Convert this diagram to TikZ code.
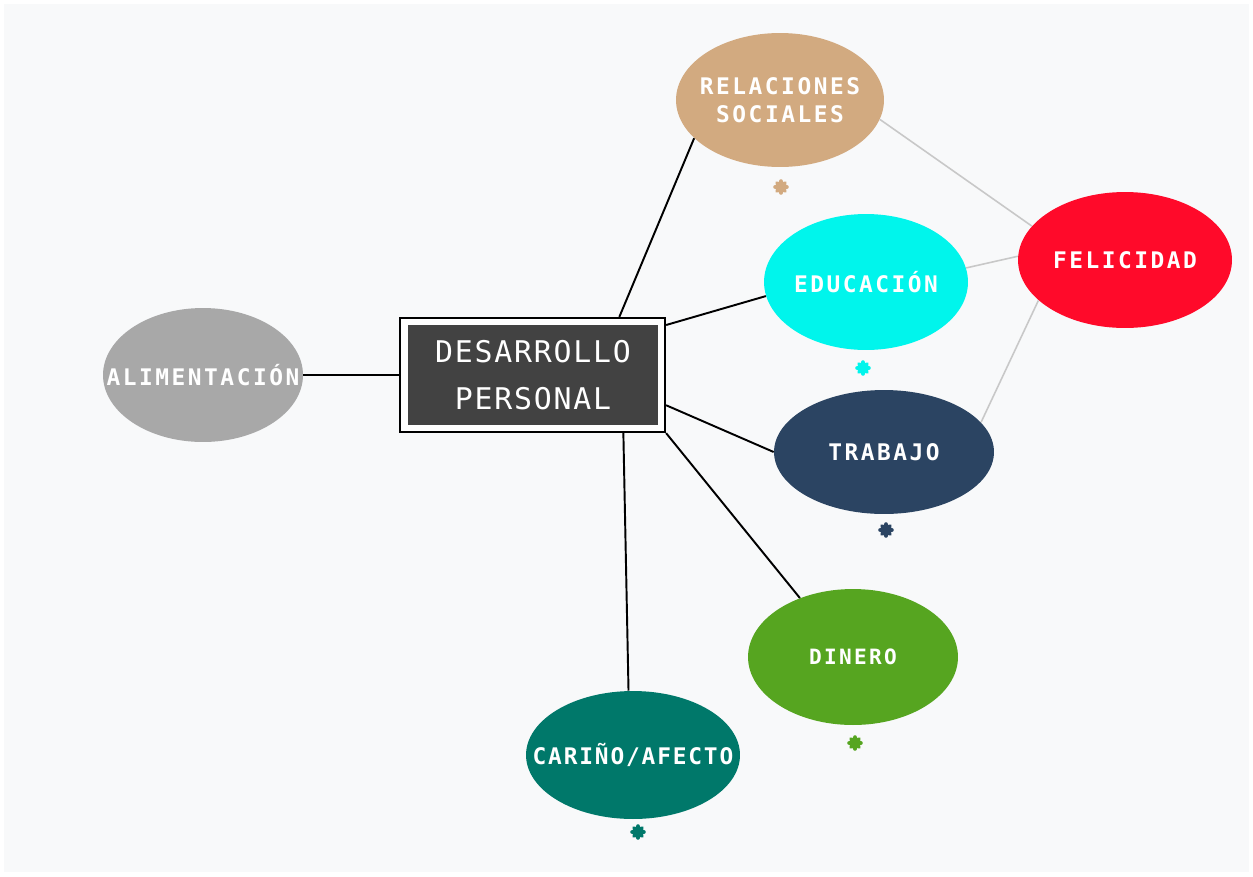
\documentclass[tikz,border=0pt]{standalone}
\usepackage{fontspec}
\usetikzlibrary{shapes.geometric,calc}
\newfontfamily\lblfont{DejaVu Sans Mono}[LetterSpace=11]
\newfontfamily\lblfontn{DejaVu Sans Mono}[LetterSpace=8]
\newfontfamily\boxfont{DejaVu Sans Mono}[LetterSpace=6]
\definecolor{bg}{HTML}{F8F9FA}
\definecolor{ctan}{HTML}{D2AA80}
\definecolor{ccyan}{HTML}{00F5EC}
\definecolor{cred}{HTML}{FF0A2A}
\definecolor{cnavy}{HTML}{2B4462}
\definecolor{cgreen}{HTML}{56A520}
\definecolor{cteal}{HTML}{00786A}
\definecolor{cgray}{HTML}{A8A8A8}
\definecolor{cdark}{HTML}{424242}
\definecolor{cline}{HTML}{C8C8C8}
\tikzset{
  bubble/.style={ellipse, fill=#1, inner sep=0pt},
  btext/.style={text=white, font=\lblfont\bfseries\fontsize{13}{16}\selectfont, align=center, inner sep=0pt},
  asterisk/.pic={
    \draw[line width=2.6pt, line cap=round, draw=#1] (-5.5,0) -- (5.5,0) (0,-5.5) -- (0,5.5);
    \draw[line width=2.2pt, line cap=round, draw=#1] (-4,-4) -- (4,4) (-4,4) -- (4,-4);
  },
  link/.style={draw=black, line width=1.1pt},
  glink/.style={draw=cline, line width=0.9pt},
}
\begin{document}
\begin{tikzpicture}[x=0.02cm,y=-0.02cm]
\fill[white] (0,0) rectangle (1253,876);
\fill[bg] (4,4) rectangle (1249,872);
\useasboundingbox (0,0) rectangle (1253,876);
% nodes
\node[bubble=cgray, minimum width=4cm, minimum height=2.68cm] (ali) at (203,375) {};
\node[btext] (ali-t) at (ali) {ALIMENTACIÓN};
\node[draw=black, line width=1.3pt, fill=white, minimum width=5.3cm, minimum height=2.28cm, inner sep=0pt] (box) at (532.5,375) {};
\node[fill=cdark, minimum width=5.0cm, minimum height=2.0cm, inner sep=0pt, text=white, align=center, font=\boxfont\fontsize{17}{27}\selectfont] (boxin) at (533,375) {DESARROLLO\\PERSONAL};
\node[bubble=ctan, minimum width=4.16cm, minimum height=2.68cm] (rel) at (780,100) {};
\node[btext] (rel-t) at (rel) {RELACIONES\\SOCIALES};
\node[bubble=ccyan, minimum width=4.08cm, minimum height=2.72cm] (edu) at (866,282) {};
\node[btext] (edu-t) at (edu) {EDUCACIÓN};
\node[bubble=cred, minimum width=4.28cm, minimum height=2.72cm] (fel) at (1125,260) {};
\node[btext] (fel-t) at (fel) {FELICIDAD};
\node[bubble=cnavy, minimum width=4.4cm, minimum height=2.48cm] (tra) at (884,452) {};
\node[btext] (tra-t) at (tra) {TRABAJO};
\node[bubble=cgreen, minimum width=4.2cm, minimum height=2.72cm] (din) at (853,657) {};
\node[btext, font=\lblfont\bfseries\fontsize{12}{14}\selectfont] (din-t) at (din) {DINERO};
\node[bubble=cteal, minimum width=4.28cm, minimum height=2.56cm] (car) at (633,755) {};
\node[btext, font=\lblfontn\bfseries\fontsize{13}{16}\selectfont] (car-t) at (car) {CARIÑO/AFECTO};
% asterisks
\pic at (781,187) {asterisk=ctan};
\pic at (863,368) {asterisk=ccyan};
\pic at (886,530) {asterisk=cnavy};
\pic at (855,743) {asterisk=cgreen};
\pic at (638,832) {asterisk=cteal};
% connectors
\draw[link] (ali.east) -- (box.west);
\draw[link] ($(box.north west)!0.825!(box.north east)$) -- (rel.204);
\draw[link] ($(box.north east)!0.07!(box.south east)$) -- (edu.188);
\draw[link] ($(box.north east)!0.76!(box.south east)$) -- (tra.180);
\draw[link] (box.south east) -- (din.132);
\draw[link] ($(box.south west)!0.84!(box.south east)$) -- (car.94);
\draw[glink] (rel.-11) -- (fel.160);
\draw[glink] (edu.8) -- (fel.178);
\draw[glink] (tra.17) -- (fel.205);
\end{tikzpicture}
\end{document}
